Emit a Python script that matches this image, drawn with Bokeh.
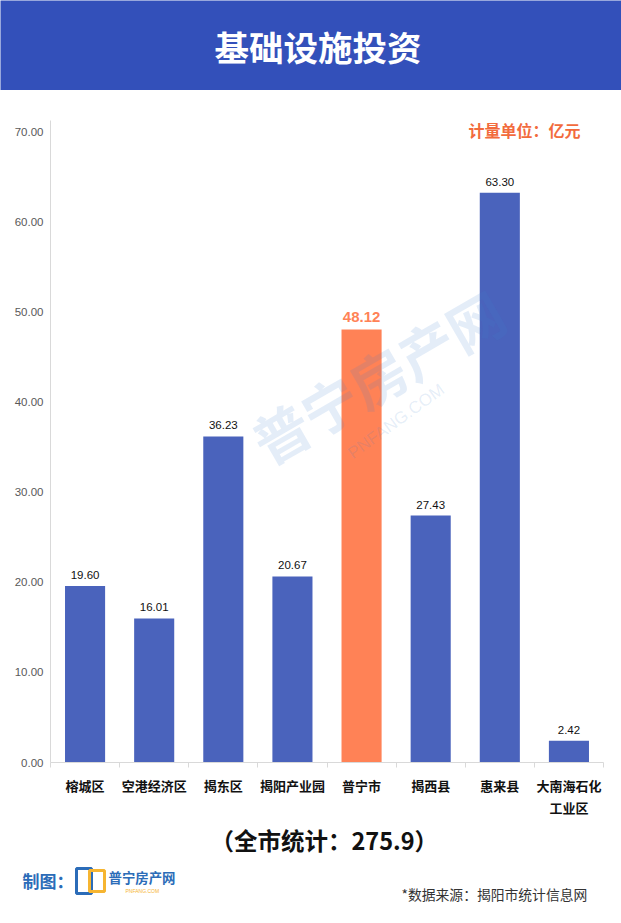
from bokeh.plotting import figure
from bokeh.models import ColumnDataSource, FixedTicker, Range1d, Label, PrintfTickFormatter
from bokeh.layouts import column
from bokeh.core.properties import value
from bokeh.embed import file_html
from bokeh.resources import INLINE

# ---- data ----
categories = ["榕城区", "空港经济区", "揭东区", "揭阳产业园", "普宁市", "揭西县", "惠来县", "大南海石化\n工业区"]
values = [19.60, 16.01, 36.23, 20.67, 48.12, 27.43, 63.30, 2.42]
highlight = "普宁市"
y_ticks = [0, 10, 20, 30, 40, 50, 60, 70]
title_text = "基础设施投资"
unit_text = "计量单位：亿元"
total_text = "（全市统计：275.9）"
source_text = "*数据来源：揭阳市统计信息网"

BLUE = "#4A63BC"
ORANGE = "#FF8256"
HEAD = "#3350BA"
CJK = "Noto Sans CJK SC"
W = 621
BL, BR = 50, 18

# ---- header ----
hdr = figure(width=W, height=90, x_range=Range1d(0, W), y_range=Range1d(0, 90),
             x_axis_type=None, y_axis_type=None, toolbar_location=None,
             output_backend="svg", min_border=0)
hdr.background_fill_color = HEAD
hdr.border_fill_color = HEAD
hdr.outline_line_color = None
hdr.grid.visible = False
hdr.text(x=[214], y=[45], text=[title_text], text_font=value(CJK), text_font_size="34.5px",
         text_font_style="bold", text_color="white", text_align="left", text_baseline="middle")

# ---- main chart ----
n = len(categories)
xs = list(range(n))
src_norm = ColumnDataSource(dict(x=[x for x, c in zip(xs, categories) if c != highlight],
                                 top=[v for v, c in zip(values, categories) if c != highlight],
                                 lbl=["%.2f" % v for v, c in zip(values, categories) if c != highlight]))
src_hi = ColumnDataSource(dict(x=[x for x, c in zip(xs, categories) if c == highlight],
                               top=[v for v, c in zip(values, categories) if c == highlight],
                               lbl=["%.2f" % v for v, c in zip(values, categories) if c == highlight]))

p = figure(width=W, height=730, x_range=Range1d(-0.5, n - 0.5), y_range=Range1d(0, 71.33),
           toolbar_location=None, output_backend="svg",
           min_border_left=BL, min_border_right=BR, min_border_top=30, min_border_bottom=58)
p.outline_line_color = None
p.grid.visible = False
p.background_fill_color = "white"

p.vbar(x="x", top="top", width=0.58, source=src_norm, color=BLUE, line_color=None)
p.vbar(x="x", top="top", width=0.58, source=src_hi, color=ORANGE, line_color=None)

p.text(x="x", y="top", text="lbl", source=src_norm, text_font=value("Liberation Sans"),
       text_font_size="11.5px", text_color="#111111", text_align="center",
       text_baseline="bottom", y_offset=-7)
p.text(x="x", y="top", text="lbl", source=src_hi, text_font=value("Liberation Sans"),
       text_font_size="15px", text_font_style="bold", text_color=ORANGE, text_align="center",
       text_baseline="bottom", y_offset=-7)

# watermark (faint)
p.add_layout(Label(x=4.23, y=43.0, text="普宁房产网", angle=30, angle_units="deg",
                   text_font=CJK, text_font_size="56px", text_font_style="bold",
                   text_color="#3F7FCC", text_alpha=0.14, text_align="center",
                   text_baseline="middle"))
p.add_layout(Label(x=4.5, y=37.9, text="PNFANG.COM", angle=36, angle_units="deg",
                   text_font="Liberation Sans", text_font_size="17px",
                   text_color="#3F7FCC", text_alpha=0.14, text_align="center",
                   text_baseline="middle"))

# unit label
p.add_layout(Label(x=5.547, y=70.3, text=unit_text, text_font=CJK, text_font_size="16px",
                   text_font_style="bold", text_color="#F26B3D", text_align="left",
                   text_baseline="middle"))

# y axis
p.yaxis.ticker = FixedTicker(ticks=y_ticks)
p.yaxis.formatter = PrintfTickFormatter(format="%.2f")
p.yaxis.axis_line_color = "#D9D9D9"
p.yaxis.major_tick_line_color = None
p.yaxis.major_tick_out = 0
p.yaxis.major_tick_in = 0
p.yaxis.minor_tick_line_color = None
p.yaxis.major_label_text_font = "Liberation Sans"
p.yaxis.major_label_text_font_size = "11.5px"
p.yaxis.major_label_text_color = "#595959"
p.yaxis.major_label_standoff = 7

# x axis
p.xaxis.ticker = FixedTicker(ticks=xs, minor_ticks=[i - 0.5 for i in range(n + 1)])
p.xaxis.major_label_overrides = {i: c for i, c in zip(xs, categories)}
p.xaxis.axis_line_color = "#D9D9D9"
p.xaxis.major_tick_line_color = None
p.xaxis.major_tick_out = 0
p.xaxis.major_tick_in = 0
p.xaxis.minor_tick_line_color = "#D9D9D9"
p.xaxis.minor_tick_out = 5
p.xaxis.minor_tick_in = 0
p.xaxis.major_label_text_font = CJK
p.xaxis.major_label_text_font_size = "13px"
p.xaxis.major_label_text_font_style = "bold"
p.xaxis.major_label_text_color = "#111111"
p.xaxis.major_label_standoff = 8

# ---- footer ----
FH = 101
TOP = 820 + FH  # page y of footer bottom
ft = figure(width=W, height=FH, x_range=Range1d(0, W), y_range=Range1d(0, FH),
            x_axis_type=None, y_axis_type=None, toolbar_location=None,
            output_backend="svg", min_border=0)
ft.outline_line_color = None
ft.grid.visible = False
ft.text(x=[210], y=[TOP - 839], text=[total_text], text_font=value(CJK), text_font_size="23.5px",
        text_font_style="bold", text_color="#111111", text_align="left", text_baseline="middle")
ft.text(x=[22], y=[TOP - 880], text=["制图："], text_font=value(CJK), text_font_size="17px",
        text_font_style="bold", text_color="#2B6CB8", text_align="left", text_baseline="middle")
ft.quad(left=[76], right=[91], bottom=[TOP - 893], top=[TOP - 868], fill_color=None,
        line_color="#2B6CB8", line_width=3)
ft.quad(left=[89], right=[104], bottom=[TOP - 891], top=[TOP - 870], fill_color=None,
        line_color="#F6B531", line_width=3)
ft.text(x=[108], y=[TOP - 876], text=["普宁房产网"], text_font=value(CJK), text_font_size="13.4px",
        text_font_style="bold", text_color="#2B6CB8", text_align="left", text_baseline="middle")
ft.text(x=[125], y=[TOP - 890], text=["PNFANG.COM"], text_font=value("Liberation Sans"),
        text_font_size="5px", text_color="#F6B531", text_align="left", text_baseline="middle")
ft.text(x=[401], y=[TOP - 893], text=[source_text], text_font=value(CJK), text_font_size="13.8px",
        text_color="#333333", text_align="left", text_baseline="middle")

# stop the column from aligning the frames of the stacked figures
try:
    for f in (hdr, p, ft):
        f.frame_align = False
except AttributeError:
    for f in (hdr, ft):
        f.min_border_left = BL
        f.min_border_right = BR
        f.x_range.start = BL
        f.x_range.end = W - BR

layout = column(hdr, p, ft, spacing=0)
open("out.html", "w").write(file_html(layout, INLINE))
